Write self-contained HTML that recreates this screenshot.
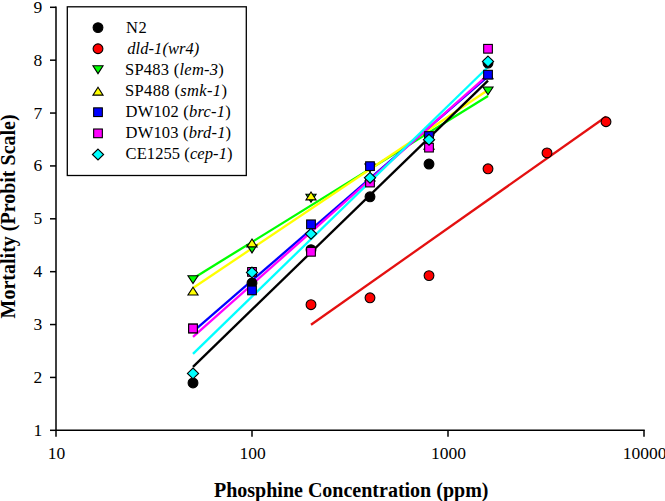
<!DOCTYPE html>
<html><head><meta charset="utf-8"><style>
html,body{margin:0;padding:0;background:#fff;}
svg{display:block;}
text{font-family:"Liberation Serif",serif;fill:#000;}
</style></head><body>
<svg width="665" height="501" viewBox="0 0 665 501">
<rect width="665" height="501" fill="#fff"/>

<g stroke="#000" stroke-width="1.5" fill="none" stroke-linecap="butt">
<path d="M56,6.6 V431 M55.25,430.3 H644.75"/>
<path d="M50,430.30 H56"/>
<path d="M50,377.43 H56"/>
<path d="M50,324.55 H56"/>
<path d="M50,271.68 H56"/>
<path d="M50,218.80 H56"/>
<path d="M50,165.93 H56"/>
<path d="M50,113.05 H56"/>
<path d="M50,60.17 H56"/>
<path d="M50,7.30 H56"/>
<path d="M56,430.3 V436.7"/>
<path d="M252,430.3 V436.7"/>
<path d="M448,430.3 V436.7"/>
<path d="M644,430.3 V436.7"/>
</g>
<g font-size="17.5">
<text x="42.3" y="435.80" text-anchor="end">1</text>
<text x="42.3" y="382.93" text-anchor="end">2</text>
<text x="42.3" y="330.05" text-anchor="end">3</text>
<text x="42.3" y="277.18" text-anchor="end">4</text>
<text x="42.3" y="224.30" text-anchor="end">5</text>
<text x="42.3" y="171.43" text-anchor="end">6</text>
<text x="42.3" y="118.55" text-anchor="end">7</text>
<text x="42.3" y="65.67" text-anchor="end">8</text>
<text x="42.3" y="12.80" text-anchor="end">9</text>
<text x="56.5" y="459" text-anchor="middle">10</text>
<text x="252.5" y="459" text-anchor="middle">100</text>
<text x="448.5" y="459" text-anchor="middle">1000</text>
<text x="644.5" y="459" text-anchor="middle">10000</text>
</g>
<text x="214" y="497" font-size="20" font-weight="bold">Phosphine Concentration (ppm)</text>
<text transform="translate(14.6,216.4) rotate(-90)" x="0" y="0" font-size="20" font-weight="bold" text-anchor="middle">Mortality (Probit Scale)</text>
<line x1="311" y1="324.8" x2="606" y2="116.8" stroke="#e41010" stroke-width="2.3" stroke-linecap="butt"/>
<line x1="193" y1="278.5" x2="488" y2="96" stroke="#00ff00" stroke-width="2.3" stroke-linecap="butt"/>
<line x1="193" y1="288" x2="488" y2="90" stroke="#ffff00" stroke-width="2.3" stroke-linecap="butt"/>
<line x1="193" y1="331.6" x2="488" y2="76.4" stroke="#0000ff" stroke-width="2.3" stroke-linecap="butt"/>
<line x1="193" y1="336.9" x2="488" y2="74.8" stroke="#ff00ff" stroke-width="2.3" stroke-linecap="butt"/>
<line x1="193" y1="353.9" x2="488" y2="67" stroke="#00ffff" stroke-width="2.3" stroke-linecap="butt"/>
<line x1="193" y1="366.8" x2="488" y2="80.6" stroke="#000000" stroke-width="2.3" stroke-linecap="butt"/>
<circle cx="193.00" cy="382.94" r="4.9" fill="#000000" stroke="#000" stroke-width="1.1"/>
<circle cx="252.00" cy="283.01" r="4.9" fill="#000000" stroke="#000" stroke-width="1.1"/>
<circle cx="311.00" cy="249.70" r="4.9" fill="#000000" stroke="#000" stroke-width="1.1"/>
<circle cx="370.00" cy="196.82" r="4.9" fill="#000000" stroke="#000" stroke-width="1.1"/>
<circle cx="429.01" cy="164.04" r="4.9" fill="#000000" stroke="#000" stroke-width="1.1"/>
<circle cx="488.01" cy="63.05" r="4.9" fill="#000000" stroke="#000" stroke-width="1.1"/>
<circle cx="311.00" cy="304.69" r="4.9" fill="#ff0000" stroke="#000" stroke-width="1.1"/>
<circle cx="370.00" cy="297.81" r="4.9" fill="#ff0000" stroke="#000" stroke-width="1.1"/>
<circle cx="429.01" cy="275.61" r="4.9" fill="#ff0000" stroke="#000" stroke-width="1.1"/>
<circle cx="488.01" cy="168.80" r="4.9" fill="#ff0000" stroke="#000" stroke-width="1.1"/>
<circle cx="547.01" cy="152.94" r="4.9" fill="#ff0000" stroke="#000" stroke-width="1.1"/>
<circle cx="606.01" cy="121.74" r="4.9" fill="#ff0000" stroke="#000" stroke-width="1.1"/>
<polygon points="187.95,275.74 198.05,275.74 193.00,283.59" fill="#00ff00" stroke="#000" stroke-width="1.1" stroke-linejoin="miter"/>
<polygon points="246.95,245.07 257.05,245.07 252.00,252.92" fill="#00ff00" stroke="#000" stroke-width="1.1" stroke-linejoin="miter"/>
<polygon points="305.95,194.31 316.05,194.31 311.00,202.16" fill="#00ff00" stroke="#000" stroke-width="1.1" stroke-linejoin="miter"/>
<polygon points="364.95,164.17 375.05,164.17 370.00,172.02" fill="#00ff00" stroke="#000" stroke-width="1.1" stroke-linejoin="miter"/>
<polygon points="423.96,135.09 434.06,135.09 429.01,142.94" fill="#00ff00" stroke="#000" stroke-width="1.1" stroke-linejoin="miter"/>
<polygon points="482.96,86.97 493.06,86.97 488.01,94.82" fill="#00ff00" stroke="#000" stroke-width="1.1" stroke-linejoin="miter"/>
<polygon points="187.95,295.04 198.05,295.04 193.00,287.19" fill="#ffff00" stroke="#000" stroke-width="1.1" stroke-linejoin="miter"/>
<polygon points="246.95,246.92 257.05,246.92 252.00,239.07" fill="#ffff00" stroke="#000" stroke-width="1.1" stroke-linejoin="miter"/>
<polygon points="305.95,199.86 316.05,199.86 311.00,192.01" fill="#ffff00" stroke="#000" stroke-width="1.1" stroke-linejoin="miter"/>
<polygon points="364.95,180.83 375.05,180.83 370.00,172.98" fill="#ffff00" stroke="#000" stroke-width="1.1" stroke-linejoin="miter"/>
<polygon points="423.96,149.10 434.06,149.10 429.01,141.25" fill="#ffff00" stroke="#000" stroke-width="1.1" stroke-linejoin="miter"/>
<polygon points="482.96,78.78 493.06,78.78 488.01,70.93" fill="#ffff00" stroke="#000" stroke-width="1.1" stroke-linejoin="miter"/>
<rect x="188.65" y="324.13" width="8.70" height="8.70" fill="#0000ff" stroke="#000" stroke-width="1.1"/>
<rect x="247.65" y="286.06" width="8.70" height="8.70" fill="#0000ff" stroke="#000" stroke-width="1.1"/>
<rect x="306.65" y="219.97" width="8.70" height="8.70" fill="#0000ff" stroke="#000" stroke-width="1.1"/>
<rect x="365.65" y="161.80" width="8.70" height="8.70" fill="#0000ff" stroke="#000" stroke-width="1.1"/>
<rect x="424.66" y="131.67" width="8.70" height="8.70" fill="#0000ff" stroke="#000" stroke-width="1.1"/>
<rect x="483.66" y="70.33" width="8.70" height="8.70" fill="#0000ff" stroke="#000" stroke-width="1.1"/>
<rect x="188.65" y="324.13" width="8.70" height="8.70" fill="#ff00ff" stroke="#000" stroke-width="1.1"/>
<rect x="247.65" y="267.55" width="8.70" height="8.70" fill="#ff00ff" stroke="#000" stroke-width="1.1"/>
<rect x="306.65" y="247.46" width="8.70" height="8.70" fill="#ff00ff" stroke="#000" stroke-width="1.1"/>
<rect x="365.65" y="178.20" width="8.70" height="8.70" fill="#ff00ff" stroke="#000" stroke-width="1.1"/>
<rect x="424.66" y="143.30" width="8.70" height="8.70" fill="#ff00ff" stroke="#000" stroke-width="1.1"/>
<rect x="483.66" y="44.42" width="8.70" height="8.70" fill="#ff00ff" stroke="#000" stroke-width="1.1"/>
<polygon points="193.00,368.02 198.60,373.42 193.00,378.82 187.40,373.42" fill="#00ffff" stroke="#000" stroke-width="1.1"/>
<polygon points="252.00,267.03 257.60,272.43 252.00,277.83 246.40,272.43" fill="#00ffff" stroke="#000" stroke-width="1.1"/>
<polygon points="311.00,228.43 316.60,233.83 311.00,239.23 305.40,233.83" fill="#00ffff" stroke="#000" stroke-width="1.1"/>
<polygon points="370.00,172.39 375.60,177.79 370.00,183.19 364.40,177.79" fill="#00ffff" stroke="#000" stroke-width="1.1"/>
<polygon points="429.01,134.32 434.61,139.72 429.01,145.12 423.41,139.72" fill="#00ffff" stroke="#000" stroke-width="1.1"/>
<polygon points="488.01,56.06 493.61,61.46 488.01,66.86 482.41,61.46" fill="#00ffff" stroke="#000" stroke-width="1.1"/>
<rect x="67.3" y="6.8" width="179" height="168.7" fill="#fff" stroke="#000" stroke-width="1.3"/>
<circle cx="98.00" cy="27.60" r="4.9" fill="#000000" stroke="#000" stroke-width="1.1"/>
<text x="126.10" y="33.30" font-size="16.5" xml:space="preserve" textLength="20.77" lengthAdjust="spacing"><tspan>N2</tspan></text>
<circle cx="98.00" cy="48.75" r="4.9" fill="#ff0000" stroke="#000" stroke-width="1.1"/>
<text x="127.30" y="54.20" font-size="16.5" xml:space="preserve" textLength="72.00" lengthAdjust="spacing"><tspan font-style="italic">dld-1(wr4)</tspan></text>
<polygon points="92.95,65.80 103.05,65.80 98.00,73.65" fill="#00ff00" stroke="#000" stroke-width="1.1" stroke-linejoin="miter"/>
<text x="125.00" y="75.10" font-size="16.5" xml:space="preserve" textLength="98.81" lengthAdjust="spacing"><tspan>SP483 (</tspan><tspan font-style="italic">lem-3</tspan><tspan>)</tspan></text>
<polygon points="92.95,95.15 103.05,95.15 98.00,87.30" fill="#ffff00" stroke="#000" stroke-width="1.1" stroke-linejoin="miter"/>
<text x="125.00" y="96.00" font-size="16.5" xml:space="preserve" textLength="101.94" lengthAdjust="spacing"><tspan>SP488 (</tspan><tspan font-style="italic">smk-1</tspan><tspan>)</tspan></text>
<rect x="93.65" y="107.85" width="8.70" height="8.70" fill="#0000ff" stroke="#000" stroke-width="1.1"/>
<text x="125.60" y="116.90" font-size="16.5" xml:space="preserve" textLength="105.10" lengthAdjust="spacing"><tspan>DW102 (</tspan><tspan font-style="italic">brc-1</tspan><tspan>)</tspan></text>
<rect x="93.65" y="129.00" width="8.70" height="8.70" fill="#ff00ff" stroke="#000" stroke-width="1.1"/>
<text x="125.60" y="137.80" font-size="16.5" xml:space="preserve" textLength="105.52" lengthAdjust="spacing"><tspan>DW103 (</tspan><tspan font-style="italic">brd-1</tspan><tspan>)</tspan></text>
<polygon points="98.00,149.10 103.60,154.50 98.00,159.90 92.40,154.50" fill="#00ffff" stroke="#000" stroke-width="1.1"/>
<text x="125.60" y="158.70" font-size="16.5" xml:space="preserve" textLength="106.88" lengthAdjust="spacing"><tspan>CE1255 (</tspan><tspan font-style="italic">cep-1</tspan><tspan>)</tspan></text>
</svg>
</body></html>
